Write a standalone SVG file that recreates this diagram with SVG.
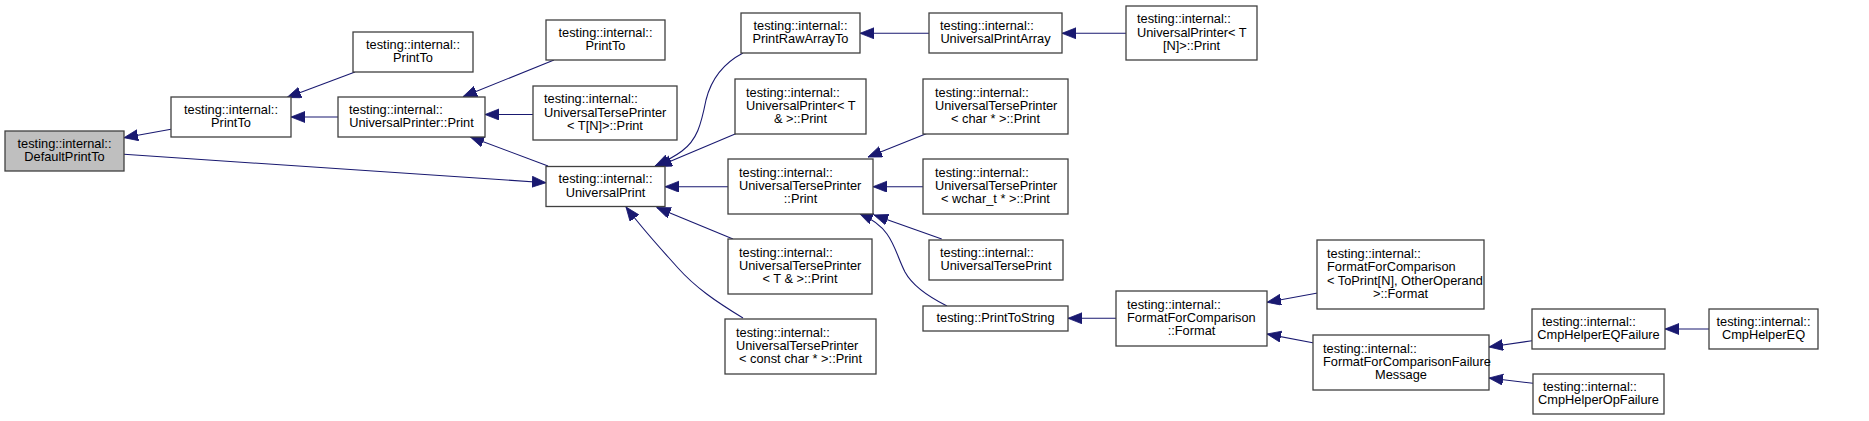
<svg xmlns="http://www.w3.org/2000/svg" width="1869" height="421" viewBox="0 0 1869 421">
<style>
.n{fill:#ffffff;stroke:#404040;stroke-width:1.3}
.s{fill:#bfbfbf}
text{font-family:"Liberation Sans",Arial,sans-serif;font-size:12.8px;fill:#000}
.m{text-anchor:middle}
.e{fill:none;stroke:#191970;stroke-width:1.1;marker-end:url(#ah)}
</style>
<defs>
<marker id="ah" markerUnits="userSpaceOnUse" markerWidth="15" markerHeight="12" refX="14" refY="5.5" orient="auto">
<path d="M0,0 L14,5.5 L0,11 z" fill="#191970" stroke="#191970" stroke-width="0.8"/>
</marker>
</defs>
<rect width="1869" height="421" fill="#ffffff"/>
<g id="edges">
<path class="e" d="M171,129.3 L124,137.7"/>
<path class="e" d="M124,154.3 L546,182.7"/>
<path class="e" d="M355,72 L287,97.5"/>
<path class="e" d="M338,117 L291,117"/>
<path class="e" d="M554,60 L463,96.7"/>
<path class="e" d="M533,114.5 L485,114.5"/>
<path class="e" d="M548,166 L470,136.7"/>
<path class="e" d="M743,53 C722,64 711,80 706,100 C701,125 697,140 682,151 C674,157 666,161 655,166"/>
<path class="e" d="M735.7,133.7 L658,166.5"/>
<path class="e" d="M728,186.7 L665,186.7"/>
<path class="e" d="M733,239 L656.7,207.5"/>
<path class="e" d="M743,318 C715,301 695,287 678,268 C662,250 645,232 626,207"/>
<path class="e" d="M929,33.3 L860,33.3"/>
<path class="e" d="M1126,33.3 L1062,33.3"/>
<path class="e" d="M928,133 L868,157"/>
<path class="e" d="M923,186.7 L873,186.7"/>
<path class="e" d="M941.7,239 L874,215"/>
<path class="e" d="M947,306 C925,295 912,285 905,272 C898,258 895,245 887,234 C880,224 870,218 859,213"/>
<path class="e" d="M1116,318.3 L1068,318.3"/>
<path class="e" d="M1319,292.7 L1267,302.3"/>
<path class="e" d="M1314,343 L1267,334"/>
<path class="e" d="M1532,340.7 L1489,347"/>
<path class="e" d="M1709,329 L1665,329"/>
<path class="e" d="M1533,383.3 L1489,378"/>
</g>
<g id="n_DefaultPrintTo">
<rect class="n s" x="5" y="131" width="119" height="40"/>
<text class="m" x="64.5" y="147.9">testing::internal::</text>
<text class="m" x="64.5" y="161.1">DefaultPrintTo</text>
</g>
<g id="n_PrintTo1">
<rect class="n" x="171" y="97" width="120" height="40"/>
<text class="m" x="231" y="113.9">testing::internal::</text>
<text class="m" x="231" y="127.1">PrintTo</text>
</g>
<g id="n_PrintTo2">
<rect class="n" x="353" y="32" width="120" height="40"/>
<text class="m" x="413" y="48.9">testing::internal::</text>
<text class="m" x="413" y="62.1">PrintTo</text>
</g>
<g id="n_UniversalPrinterPrint">
<rect class="n" x="338" y="97" width="147" height="40"/>
<text x="349" y="113.9">testing::internal::</text>
<text class="m" x="411.5" y="127.1">UniversalPrinter::Print</text>
</g>
<g id="n_PrintTo3">
<rect class="n" x="546" y="20" width="119" height="40"/>
<text class="m" x="605.5" y="36.9">testing::internal::</text>
<text class="m" x="605.5" y="50.1">PrintTo</text>
</g>
<g id="n_UTP_TN">
<rect class="n" x="533" y="86" width="144" height="54"/>
<text x="544" y="103.3">testing::internal::</text>
<text x="544" y="116.5">UniversalTersePrinter</text>
<text class="m" x="605" y="129.7">&lt; T[N]&gt;::Print</text>
</g>
<g id="n_UniversalPrint">
<rect class="n" x="546" y="166.5" width="119" height="40"/>
<text class="m" x="605.5" y="183.4">testing::internal::</text>
<text class="m" x="605.5" y="196.6">UniversalPrint</text>
</g>
<g id="n_PrintRawArrayTo">
<rect class="n" x="741" y="13" width="119" height="40"/>
<text class="m" x="800.5" y="29.9">testing::internal::</text>
<text class="m" x="800.5" y="43.1">PrintRawArrayTo</text>
</g>
<g id="n_UP_Tref">
<rect class="n" x="735" y="79" width="131" height="55"/>
<text x="746" y="96.8">testing::internal::</text>
<text x="746" y="110">UniversalPrinter&lt; T</text>
<text class="m" x="800.5" y="123.2">&amp; &gt;::Print</text>
</g>
<g id="n_UTP_Print">
<rect class="n" x="728" y="159" width="145" height="55"/>
<text x="739" y="176.8">testing::internal::</text>
<text x="739" y="190">UniversalTersePrinter</text>
<text class="m" x="800.5" y="203.2">::Print</text>
</g>
<g id="n_UTP_Tref">
<rect class="n" x="728" y="239" width="144" height="55"/>
<text x="739" y="256.8">testing::internal::</text>
<text x="739" y="270">UniversalTersePrinter</text>
<text class="m" x="800" y="283.2">&lt; T &amp; &gt;::Print</text>
</g>
<g id="n_UTP_constchar">
<rect class="n" x="725" y="319" width="151" height="55"/>
<text x="736" y="336.8">testing::internal::</text>
<text x="736" y="350">UniversalTersePrinter</text>
<text class="m" x="800.5" y="363.2">&lt; const char * &gt;::Print</text>
</g>
<g id="n_UniversalPrintArray">
<rect class="n" x="929" y="13" width="133" height="40"/>
<text x="940" y="29.9">testing::internal::</text>
<text class="m" x="995.5" y="43.1">UniversalPrintArray</text>
</g>
<g id="n_UTP_char">
<rect class="n" x="923" y="79" width="145" height="55"/>
<text x="935" y="96.8">testing::internal::</text>
<text x="935" y="110">UniversalTersePrinter</text>
<text class="m" x="995.5" y="123.2">&lt; char * &gt;::Print</text>
</g>
<g id="n_UTP_wchar">
<rect class="n" x="923" y="159" width="145" height="55"/>
<text x="935" y="176.8">testing::internal::</text>
<text x="935" y="190">UniversalTersePrinter</text>
<text class="m" x="995.5" y="203.2">&lt; wchar_t * &gt;::Print</text>
</g>
<g id="n_UniversalTersePrint">
<rect class="n" x="929" y="240" width="134" height="40"/>
<text x="940" y="256.9">testing::internal::</text>
<text class="m" x="996" y="270.1">UniversalTersePrint</text>
</g>
<g id="n_PrintToString">
<rect class="n" x="923" y="306" width="145" height="25"/>
<text class="m" x="995.5" y="322">testing::PrintToString</text>
</g>
<g id="n_UP_TN">
<rect class="n" x="1126" y="6" width="131" height="54"/>
<text x="1137" y="23.3">testing::internal::</text>
<text x="1137" y="36.5">UniversalPrinter&lt; T</text>
<text class="m" x="1191.5" y="49.7">[N]&gt;::Print</text>
</g>
<g id="n_FFC_Format">
<rect class="n" x="1116" y="291" width="151" height="55"/>
<text x="1127" y="308.8">testing::internal::</text>
<text x="1127" y="322">FormatForComparison</text>
<text class="m" x="1191.5" y="335.2">::Format</text>
</g>
<g id="n_FFC_ToPrintN">
<rect class="n" x="1317" y="240" width="167" height="69"/>
<text x="1327" y="258.2">testing::internal::</text>
<text x="1327" y="271.4">FormatForComparison</text>
<text x="1327" y="284.6">&lt; ToPrint[N], OtherOperand</text>
<text class="m" x="1400.5" y="297.8">&gt;::Format</text>
</g>
<g id="n_FFCFailureMessage">
<rect class="n" x="1313" y="335" width="176" height="55"/>
<text x="1323" y="352.8">testing::internal::</text>
<text x="1323" y="366">FormatForComparisonFailure</text>
<text class="m" x="1401" y="379.2">Message</text>
</g>
<g id="n_CmpHelperEQFailure">
<rect class="n" x="1532" y="309" width="133" height="40"/>
<text x="1542" y="325.9">testing::internal::</text>
<text class="m" x="1598.5" y="339.1">CmpHelperEQFailure</text>
</g>
<g id="n_CmpHelperOpFailure">
<rect class="n" x="1533" y="374" width="131" height="40"/>
<text x="1543" y="390.9">testing::internal::</text>
<text class="m" x="1598.5" y="404.1">CmpHelperOpFailure</text>
</g>
<g id="n_CmpHelperEQ">
<rect class="n" x="1709" y="309" width="109" height="40"/>
<text class="m" x="1763.5" y="325.9">testing::internal::</text>
<text class="m" x="1763.5" y="339.1">CmpHelperEQ</text>
</g>
</svg>
